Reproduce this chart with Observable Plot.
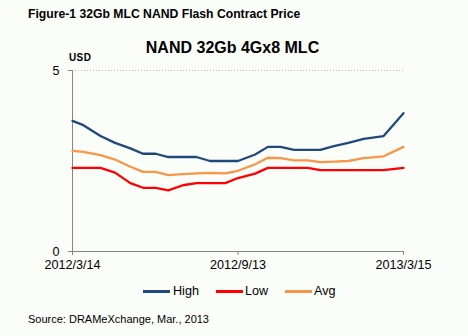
<!DOCTYPE html>
<html>
<head>
<meta charset="utf-8">
<script src="https://cdn.jsdelivr.net/npm/d3@7"></script>
<script src="https://cdn.jsdelivr.net/npm/@observablehq/plot@0.6"></script>
<style>
  html, body { margin: 0; padding: 0; background: #fbfdf9; }
  #wrap { position: relative; width: 468px; height: 336px; overflow: hidden;
          font-family: "Liberation Sans", Arial, sans-serif; color: #000; }
  #wrap svg { position: absolute; left: 0; top: 0; }
  .abs { position: absolute; white-space: nowrap; }
  .sw { position: absolute; height: 2.5px; }
</style>
</head>
<body>
<div id="wrap">
  <div class="abs" style="left:28px; top:7px; font-size:12.2px; font-weight:bold; line-height:14px;">Figure-1 32Gb MLC NAND Flash Contract Price</div>
  <div class="abs" style="left:0; width:465px; text-align:center; top:38px; font-size:16px; font-weight:bold; line-height:19px;">NAND 32Gb 4Gx8 MLC</div>
  <div class="abs" style="left:69px; top:52px; font-size:10px; font-weight:bold; line-height:12px; letter-spacing:0.4px;">USD</div>
  <div id="legend"></div>
  <div class="abs" style="left:28px; top:312px; font-size:11px; line-height:14px;">Source: DRAMeXchange, Mar., 2013</div>
</div>
<script>
const dates = ["2012-03-14","2012-03-26","2012-04-14","2012-04-30","2012-05-17","2012-05-31",
  "2012-06-14","2012-06-28","2012-07-14","2012-07-29","2012-08-13","2012-08-30",
  "2012-09-13","2012-10-02","2012-10-16","2012-10-30","2012-11-14","2012-11-29",
  "2012-12-13","2012-12-28","2013-01-13","2013-01-30","2013-02-21","2013-03-15"];
const high = [3.61,3.49,3.19,3.00,2.85,2.70,2.70,2.61,2.61,2.61,2.50,2.50,
  2.50,2.68,2.89,2.89,2.81,2.81,2.81,2.91,3.00,3.11,3.19,3.82];
const low = [2.31,2.31,2.31,2.18,1.89,1.76,1.76,1.69,1.83,1.89,1.89,1.89,
  2.03,2.15,2.31,2.31,2.31,2.31,2.25,2.25,2.25,2.25,2.25,2.31];
const avg = [2.78,2.75,2.66,2.54,2.34,2.20,2.20,2.11,2.14,2.16,2.17,2.16,
  2.23,2.41,2.59,2.58,2.52,2.52,2.47,2.48,2.50,2.58,2.63,2.89];
const seriesNames = ["High","Low","Avg"];
const seriesColors = ["#1f497d","#ff0000","#f79646"];
const xTickDates = ["2012-03-14","2012-09-13","2013-03-15"];
const xTickLabels = ["2012/3/14","2012/9/13","2013/3/15"];
const yTicks = [0,5];

const parse = s => new Date(s + "T00:00:00Z");
const seriesValues = [high, low, avg];
const data = [];
seriesNames.forEach((name, k) => {
  dates.forEach((d, i) => data.push({series: name, date: parse(d), value: seriesValues[k][i]}));
});
const tickDates = xTickDates.map(parse);
const labelOf = new Map(tickDates.map((d, i) => [+d, xTickLabels[i]]));
const xDomain = [tickDates[0], tickDates[tickDates.length - 1]];

const chart = Plot.plot({
  width: 468,
  height: 336,
  marginLeft: 72,
  marginRight: 65,
  marginTop: 70,
  marginBottom: 85,
  style: {background: "transparent", fontFamily: '"Liberation Sans", Arial, sans-serif', fontSize: "12px", color: "#000"},
  x: {type: "utc", domain: xDomain},
  y: {domain: [0, 5]},
  color: {domain: seriesNames, range: seriesColors},
  marks: [
    Plot.ruleY([5], {stroke: "#bfbfbf", strokeDasharray: "1,2", strokeWidth: 1}),
    Plot.axisX({ticks: tickDates, tickFormat: d => labelOf.get(+d), tickSize: 4, tickPadding: 5,
      stroke: "#868686", fontSize: 12.6, label: null}),
    Plot.axisY({ticks: yTicks, tickFormat: d => String(d), tickSize: 4, tickPadding: 9,
      stroke: "#868686", fontSize: 12.6, label: null}),
    Plot.ruleX([xDomain[0]], {stroke: "#868686", strokeWidth: 1}),
    Plot.ruleY([0], {stroke: "#868686", strokeWidth: 1}),
    Plot.line(data, {x: "date", y: "value", z: "series", stroke: "series", strokeWidth: 2.3,
      strokeLinejoin: "round", curve: "linear"})
  ]
});
document.getElementById("wrap").prepend(chart);

// legend
const legend = document.getElementById("legend");
const legendPos = [[143, 173], [215.5, 245], [285, 314]];
seriesNames.forEach((name, k) => {
  const sw = document.createElement("div");
  sw.className = "sw";
  sw.style.left = legendPos[k][0] + "px";
  sw.style.width = "27px";
  sw.style.top = "290px";
  sw.style.background = seriesColors[k];
  legend.appendChild(sw);
  const t = document.createElement("div");
  t.className = "abs";
  t.style.left = legendPos[k][1] + "px";
  t.style.top = "284px";
  t.style.fontSize = "12.6px";
  t.style.lineHeight = "14px";
  t.textContent = name;
  legend.appendChild(t);
});
</script>
</body>
</html>
